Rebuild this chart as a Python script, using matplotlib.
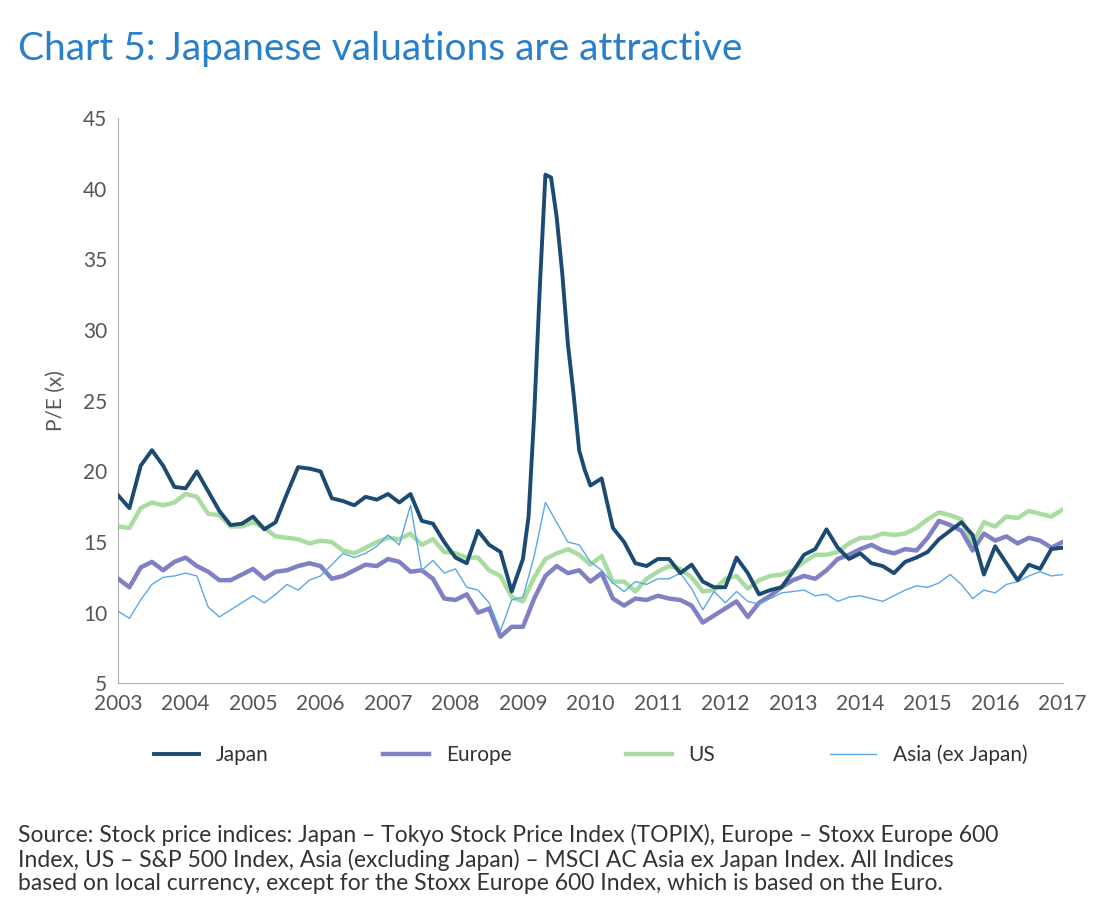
import numpy as np
import matplotlib.pyplot as plt

plt.rcParams['font.family'] = ['Lato', 'DejaVu Sans']

# bimonthly grid 2003.0 .. 2017.0
years = [2003 + i / 6 for i in range(85)]

# Japan: bimonthly to end-2008, monthly through 2009, bimonthly from 2010.17
japan_years = ([2003 + i / 6 for i in range(36)] +
               [2009 + i / 12 for i in range(13)] +
               [2010 + i / 6 for i in range(1, 43)])
japan = [18.3, 17.4, 20.4, 21.5, 20.4, 18.9,
         18.8, 20.0, 18.6, 17.2, 16.2, 16.3,
         16.8, 15.9, 16.4, 18.4, 20.3, 20.2,
         20.0, 18.1, 17.9, 17.6, 18.2, 18.0,
         18.4, 17.8, 18.4, 16.5, 16.3, 15.0,
         13.9, 13.5, 15.8, 14.8, 14.3, 11.5,
         13.8, 16.8, 24.0, 33.0, 41.0, 40.8, 38.0, 34.0, 29.0, 25.5, 21.5, 20.1, 19.0,
         19.5, 16.0, 15.0, 13.5, 13.3,
         13.8, 13.8, 12.8, 13.4, 12.2, 11.8,
         11.8, 13.9, 12.8, 11.3, 11.6, 11.8,
         12.9, 14.1, 14.5, 15.9, 14.6, 13.8,
         14.2, 13.5, 13.3, 12.8, 13.6, 13.9,
         14.3, 15.2, 15.8, 16.4, 15.5, 12.7,
         14.7, 13.5, 12.3, 13.4, 13.1, 14.5,
         14.6]
europe = [12.4, 11.8, 13.2, 13.6, 13.0, 13.6,
          13.9, 13.3, 12.9, 12.3, 12.3, 12.7,
          13.1, 12.4, 12.9, 13.0, 13.3, 13.5,
          13.3, 12.4, 12.6, 13.0, 13.4, 13.3,
          13.8, 13.6, 12.9, 13.0, 12.4, 11.0,
          10.9, 11.3, 10.0, 10.3, 8.3, 9.0,
          9.0, 11.0, 12.6, 13.3, 12.8, 13.0,
          12.2, 12.8, 11.0, 10.5, 11.0, 10.9,
          11.2, 11.0, 10.9, 10.5, 9.3, 9.8,
          10.3, 10.8, 9.7, 10.7, 11.2, 11.8,
          12.3, 12.6, 12.4, 13.0, 13.8, 14.1,
          14.5, 14.8, 14.4, 14.2, 14.5, 14.4,
          15.3, 16.5, 16.2, 15.8, 14.4, 15.6,
          15.1, 15.4, 14.9, 15.3, 15.1, 14.6,
          15.0]
us = [16.1, 16.0, 17.4, 17.8, 17.6, 17.8,
      18.4, 18.2, 17.0, 16.9, 16.1, 16.1,
      16.4, 16.0, 15.4, 15.3, 15.2, 14.9,
      15.1, 15.0, 14.4, 14.2, 14.6, 15.0,
      15.3, 15.2, 15.6, 14.8, 15.2, 14.3,
      14.2, 13.9, 13.9, 13.0, 12.6, 11.1,
      10.8, 12.5, 13.8, 14.2, 14.5, 14.1,
      13.4, 14.0, 12.2, 12.2, 11.5, 12.4,
      12.9, 13.3, 13.1, 12.5, 11.5, 11.6,
      12.4, 12.6, 11.7, 12.3, 12.6, 12.7,
      13.0, 13.6, 14.1, 14.1, 14.3, 14.9,
      15.3, 15.3, 15.6, 15.5, 15.6, 16.0,
      16.6, 17.1, 16.9, 16.6, 14.9, 16.4,
      16.1, 16.8, 16.7, 17.2, 17.0, 16.8,
      17.3]
asia = [10.1, 9.6, 10.9, 12.0, 12.5, 12.6,
        12.8, 12.6, 10.4, 9.7, 10.2, 10.7,
        11.2, 10.7, 11.3, 12.0, 11.6, 12.3,
        12.6, 13.4, 14.2, 13.9, 14.2, 14.7,
        15.5, 14.8, 17.6, 13.0, 13.7, 12.8,
        13.1, 11.8, 11.6, 10.7, 8.7, 10.9,
        11.1, 14.0, 17.8, 16.4, 15.0, 14.8,
        13.6, 13.0, 12.1, 11.5, 12.2, 12.0,
        12.4, 12.4, 12.8, 11.7, 10.2, 11.5,
        10.7, 11.5, 10.8, 10.6, 11.0, 11.4,
        11.5, 11.6, 11.2, 11.3, 10.8, 11.1,
        11.2, 11.0, 10.8, 11.2, 11.6, 11.9,
        11.8, 12.1, 12.7, 12.0, 11.0, 11.6,
        11.4, 12.0, 12.2, 12.6, 12.9, 12.6,
        12.7]

fig = plt.figure(figsize=(11.15, 9.16), dpi=100)
ax = fig.add_axes([0.106, 0.254, 0.847, 0.617])

ax.plot(japan_years, japan, color='#1b4a72', lw=2.8, label='Japan', zorder=5)
ax.plot(years, europe, color='#8080c4', lw=3.2, label='Europe', zorder=3)
ax.plot(years, us, color='#a8dca0', lw=3.2, label='US', zorder=2)
ax.plot(years, asia, color='#5aa8e8', lw=1.0, label='Asia (ex Japan)', zorder=4)

ax.set_xlim(2003, 2017)
ax.set_ylim(5, 45)
ax.set_xticks(range(2003, 2018))
ax.set_yticks(range(5, 50, 5))
ax.tick_params(axis='both', length=0, labelsize=15, colors='#555555', pad=8)
ax.set_ylabel('P/E (x)', fontsize=15, color='#555555', labelpad=12)
for side in ['top', 'right']:
    ax.spines[side].set_visible(False)
for side in ['left', 'bottom']:
    ax.spines[side].set_color('#b0b0b0')

ax.legend(loc='upper center', bbox_to_anchor=(0.5, -0.075), ncol=4, frameon=False,
          fontsize=15, handlelength=2.2, columnspacing=5.5, labelcolor='#333333')

fig.text(0.016, 0.935, 'Chart 5: Japanese valuations are attractive', fontsize=28, color='#2a7fc9')
fig.text(0.016, 0.028,
         'Source: Stock price indices: Japan \u2013 Tokyo Stock Price Index (TOPIX), Europe \u2013 Stoxx Europe 600\n'
         'Index, US \u2013 S&P 500 Index, Asia (excluding Japan) \u2013 MSCI AC Asia ex Japan Index. All Indices\n'
         'based on local currency, except for the Stoxx Europe 600 Index, which is based on the Euro.',
         fontsize=16.5, color='#333333', linespacing=1.15)

fig.savefig('out.png', dpi=100)
